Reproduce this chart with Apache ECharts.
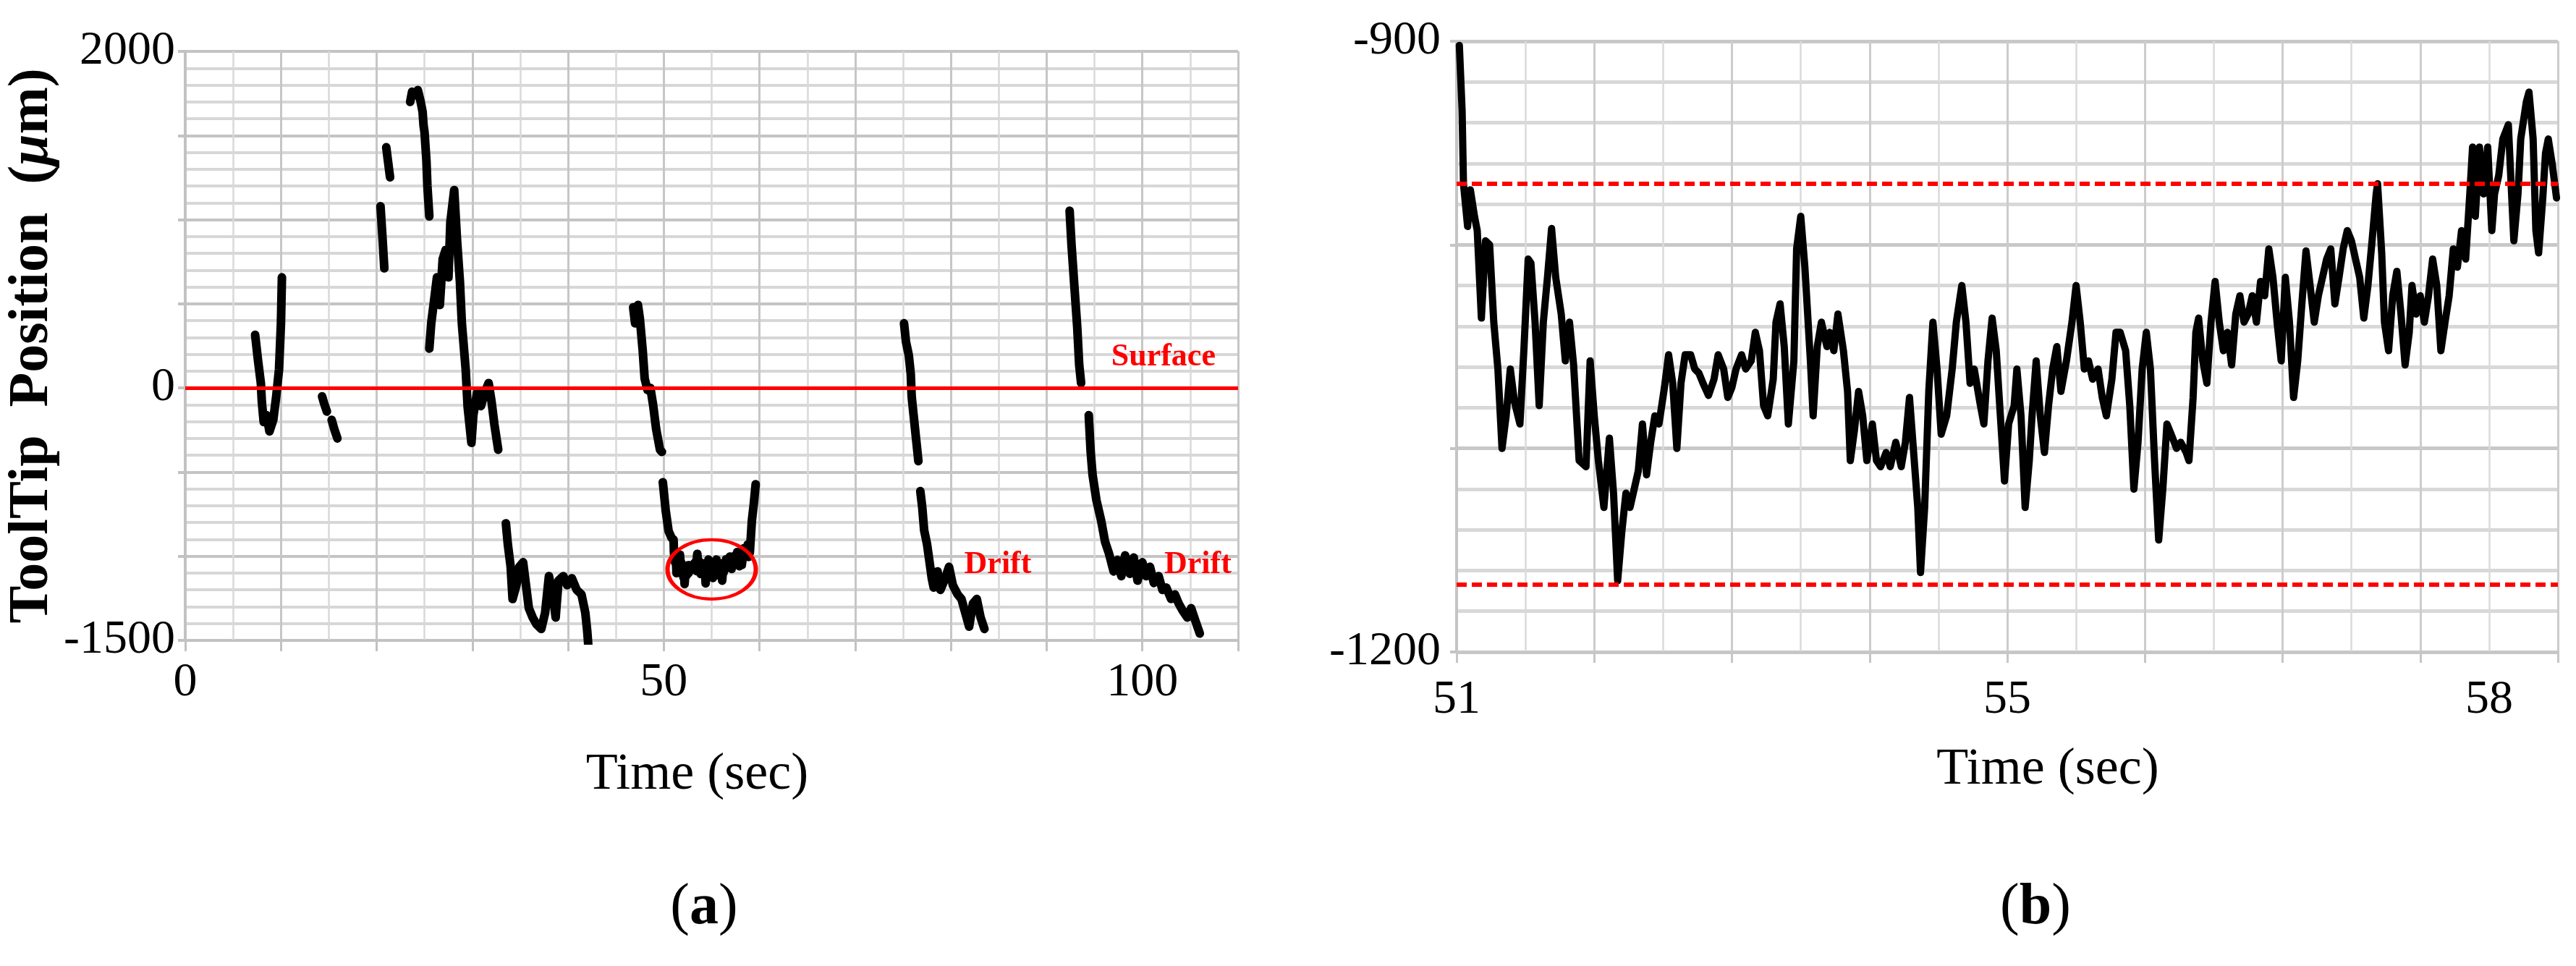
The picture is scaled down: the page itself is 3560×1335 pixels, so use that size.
<!DOCTYPE html>
<html>
<head>
<meta charset="utf-8">
<title>ToolTip Position</title>
<script src="https://cdn.jsdelivr.net/npm/echarts@6/dist/echarts.min.js"></script>
<style>
  html, body { margin: 0; padding: 0; background: #fff; }
  #chart { width: 3560px; height: 1335px; }
</style>
</head>
<body>
<div id="chart"></div>
<script>
const FONT = '"Liberation Serif", "Times New Roman", serif'

// (a) whole run, [time s, position um], one array per unbroken piece of trace
const runA1 = [[7.3, 316], [7.6, 165], [7.9, 29], [8.0, -80], [8.2, -203], [8.5, -162], [8.8, -258], [9.2, -189], [9.5, -53], [9.8, 111], [10.0, 384], [10.1, 657]]
const runA2 = [[14.3, -50], [14.5, -90], [14.8, -140]]
const runA3 = [[15.3, -190], [15.6, -250], [15.9, -300]]
const runA4 = [[20.4, 1080], [20.6, 900], [20.8, 711]]
const runA5 = [[21.0, 1430], [21.2, 1340], [21.4, 1252]]
const runA6 = [[23.5, 1700], [23.7, 1760], [24.0, 1740], [24.3, 1770], [24.6, 1700], [24.8, 1640], [24.9, 1560], [25.0, 1520], [25.2, 1350], [25.3, 1200], [25.5, 1020]]
const runA7 = [[25.5, 234], [25.7, 384], [26.0, 520], [26.3, 657], [26.6, 493], [26.9, 766], [27.2, 820], [27.5, 657], [27.7, 984], [28.1, 1176], [28.4, 875], [28.7, 630], [28.9, 384], [29.3, 111], [29.5, -108], [29.9, -326], [30.1, -162], [30.5, -26], [30.9, -108], [31.3, -26], [31.7, 29], [32.0, -80], [32.3, -217], [32.7, -367]]
const runA8 = [[33.5, -804], [33.7, -927], [34.0, -1063], [34.2, -1254], [34.6, -1172], [34.9, -1063], [35.3, -1036], [35.6, -1172], [35.9, -1309], [36.3, -1364], [36.7, -1404], [37.2, -1432], [37.6, -1336], [38.0, -1118], [38.4, -1227], [38.7, -1364], [39.0, -1145], [39.5, -1118], [39.9, -1172], [40.4, -1131], [40.9, -1200], [41.4, -1227], [41.8, -1336], [42.0, -1445], [42.1, -1520]]
const runA9 = [[46.8, 479], [47.0, 384], [47.3, 493], [47.5, 411], [47.8, 220], [48.0, 56], [48.3, -12], [48.6, 0], [48.9, -108], [49.2, -244], [49.6, -367], [49.8, -380]]
const runA10In = [[49.9, -560], [50.2, -730], [50.5, -850], [50.8, -890]]
const runA10Out = [[59.2, -790], [59.4, -690], [59.6, -572]]
const runA11 = [[75.1, 384], [75.3, 275], [75.6, 193], [75.8, 84], [75.9, -53], [76.1, -162], [76.4, -326], [76.6, -435]]
const runA12 = [[76.8, -613], [77.0, -708], [77.2, -845], [77.5, -927], [77.7, -1008], [78.0, -1131], [78.2, -1186], [78.6, -1090], [78.9, -1200], [79.4, -1131], [79.8, -1063], [80.2, -1172], [80.7, -1227], [81.1, -1254], [81.5, -1336], [81.9, -1418], [82.3, -1281], [82.7, -1254], [83.1, -1364], [83.5, -1432]]
const runA13 = [[92.4, 1053], [92.6, 848], [92.9, 602], [93.2, 357], [93.4, 138], [93.6, 29]]
const runA14 = [[94.4, -162], [94.6, -381], [94.8, -517], [95.2, -667], [95.7, -790], [96.1, -913], [96.5, -981], [97.0, -1090], [97.4, -1022], [97.8, -1118], [98.2, -995], [98.7, -1104], [99.1, -1008], [99.5, -1145], [100.0, -1036], [100.4, -1118], [100.8, -1063], [101.2, -1159], [101.7, -1118], [102.1, -1200], [102.5, -1186], [103.0, -1254], [103.4, -1227], [103.8, -1281], [104.2, -1322], [104.7, -1364], [105.1, -1309], [105.5, -1377], [106.0, -1459]]

// (b) close-up of the circled stretch
const timeB = [
  51.02, 51.04, 51.05, 51.08, 51.10, 51.13, 51.15, 51.18, 51.21, 51.24,
  51.27, 51.30, 51.33, 51.36, 51.39, 51.42, 51.46, 51.49, 51.52, 51.54,
  51.57, 51.60, 51.63, 51.66, 51.69, 51.72, 51.76, 51.79, 51.82, 51.85,
  51.89, 51.94, 51.97, 52.00, 52.03, 52.07, 52.11, 52.14, 52.17, 52.20,
  52.23, 52.26, 52.29, 52.32, 52.35, 52.38, 52.41, 52.44, 52.47, 52.51,
  52.54, 52.57, 52.60, 52.63, 52.66, 52.70, 52.73, 52.76, 52.79, 52.83,
  52.87, 52.90, 52.94, 52.97, 53.00, 53.03, 53.07, 53.10, 53.14, 53.17,
  53.20, 53.23, 53.26, 53.30, 53.32, 53.35, 53.38, 53.41, 53.45, 53.47,
  53.50, 53.53, 53.57, 53.59, 53.62, 53.65, 53.69, 53.71, 53.74, 53.77,
  53.81, 53.84, 53.86, 53.89, 53.92, 53.95, 53.98, 54.02, 54.05, 54.08,
  54.12, 54.15, 54.19, 54.23, 54.26, 54.29, 54.32, 54.35, 54.37, 54.40,
  54.43, 54.46, 54.49, 54.52, 54.56, 54.60, 54.63, 54.67, 54.70, 54.73,
  54.76, 54.80, 54.83, 54.86, 54.89, 54.92, 54.95, 54.98, 55.01, 55.05,
  55.07, 55.10, 55.13, 55.16, 55.18, 55.21, 55.24, 55.27, 55.30, 55.33,
  55.36, 55.39, 55.43, 55.47, 55.50, 55.53, 55.56, 55.59, 55.62, 55.66,
  55.69, 55.72, 55.76, 55.79, 55.82, 55.86, 55.89, 55.92, 55.95, 55.98,
  56.01, 56.04, 56.07, 56.10, 56.13, 56.16, 56.19, 56.23, 56.26, 56.30,
  56.32, 56.35, 56.37, 56.39, 56.42, 56.45, 56.48, 56.51, 56.54, 56.57,
  56.60, 56.63, 56.66, 56.69, 56.72, 56.75, 56.78, 56.81, 56.84, 56.87,
  56.90, 56.93, 56.96, 56.99, 57.02, 57.05, 57.08, 57.11, 57.14, 57.17,
  57.20, 57.23, 57.26, 57.29, 57.32, 57.35, 57.38, 57.41, 57.44, 57.47,
  57.50, 57.53, 57.56, 57.59, 57.62, 57.65, 57.68, 57.69, 57.72, 57.74,
  57.77, 57.80, 57.83, 57.86, 57.89, 57.92, 57.94, 57.97, 58.00, 58.03,
  58.06, 58.09, 58.12, 58.15, 58.18, 58.21, 58.24, 58.27, 58.30, 58.33,
  58.36, 58.38, 58.40, 58.43, 58.46, 58.49, 58.52, 58.54, 58.57, 58.60,
  58.64, 58.66, 58.68, 58.71, 58.73, 58.77, 58.79, 58.82, 58.84, 58.86,
  58.89, 58.91, 58.93, 58.96, 58.99,
]
const posB = [
  -902, -934, -970, -991, -973, -986, -993, -1036, -998, -1000,
  -1038, -1061, -1100, -1084, -1061, -1077, -1088, -1050, -1007, -1009,
  -1038, -1079, -1038, -1016, -992, -1016, -1034, -1057, -1038, -1059,
  -1106, -1109, -1057, -1084, -1106, -1129, -1095, -1122, -1165, -1141,
  -1122, -1129, -1120, -1111, -1088, -1113, -1097, -1084, -1088, -1070,
  -1054, -1068, -1100, -1068, -1054, -1054, -1061, -1063, -1068, -1074,
  -1066, -1054, -1061, -1075, -1070, -1061, -1054, -1061, -1057, -1043,
  -1052, -1079, -1084, -1066, -1038, -1029, -1050, -1088, -1057, -1002,
  -986, -1011, -1057, -1084, -1050, -1038, -1050, -1043, -1052, -1034,
  -1052, -1072, -1106, -1091, -1072, -1084, -1106, -1088, -1106, -1109,
  -1102, -1109, -1097, -1109, -1097, -1075, -1102, -1129, -1161, -1129,
  -1072, -1038, -1061, -1093, -1084, -1061, -1038, -1020, -1038, -1068,
  -1061, -1077, -1088, -1057, -1036, -1052, -1084, -1116, -1088, -1079,
  -1061, -1084, -1129, -1106, -1084, -1057, -1084, -1102, -1079, -1061,
  -1050, -1072, -1057, -1038, -1020, -1038, -1061, -1057, -1066, -1061,
  -1075, -1084, -1066, -1043, -1043, -1052, -1079, -1120, -1097, -1061,
  -1043, -1061, -1106, -1145, -1120, -1088, -1093, -1100, -1097, -1102,
  -1106, -1075, -1043, -1036, -1057, -1068, -1038, -1018, -1038, -1052,
  -1043, -1059, -1034, -1025, -1038, -1034, -1025, -1038, -1018, -1025,
  -1002, -1016, -1038, -1057, -1016, -1038, -1075, -1057, -1029, -1003,
  -1020, -1038, -1025, -1016, -1007, -1002, -1029, -1016, -1002, -993,
  -998, -1007, -1016, -1036, -1020, -998, -975, -970, -1004, -1038,
  -1052, -1025, -1013, -1034, -1059, -1043, -1020, -1034, -1025, -1038,
  -1025, -1007, -1020, -1052, -1038, -1025, -1002, -1011, -993, -1007,
  -975, -952, -986, -952, -975, -952, -993, -975, -966, -948,
  -941, -970, -998, -975, -948, -930, -925, -948, -993, -1004,
  -977, -955, -948, -961, -977,
]

// tick labels
const xLabelsA = [0, 50, 100]
const yLabelsA = [2000, 0, -1500]
const yLabelsB = [-900, -1200]
const xLabelPosB = [51, 55, 58.5]
const xLabelTextB = ['51', '55', '58']

// reference levels
const surfaceLevel = 0
const driftBandB = [-970, -1167]

const closeUpB = timeB.map((t, i) => [t, posB[i]])
const runA10 = runA10In.concat(closeUpB, runA10Out)
const runsA = [runA1, runA2, runA3, runA4, runA5, runA6, runA7, runA8, runA9, runA10, runA11, runA12, runA13, runA14]

const tickFont = { fontFamily: FONT, fontSize: 66, color: '#000' }
const titleFont = { fontFamily: FONT, fontSize: 72, color: '#000' }

function traceSeries(data, axisIndex, width) {
  return {
    type: 'line',
    xAxisIndex: axisIndex,
    yAxisIndex: axisIndex,
    data,
    showSymbol: false,
    silent: true,
    z: 2,
    lineStyle: { color: '#000', width, cap: 'round', join: 'round' },
  }
}

function buildOption() {
  const series = runsA.map(run => traceSeries(run, 0, 12))
  series.push(traceSeries(closeUpB, 1, 10))

  // annotations of (a)
  series.push({
    type: 'line',
    xAxisIndex: 0,
    yAxisIndex: 0,
    data: [],
    z: 5,
    markLine: {
      silent: true,
      symbol: 'none',
      label: { show: false },
      lineStyle: { color: '#f00', width: 5, type: 'solid' },
      data: [{ yAxis: surfaceLevel }],
    },
    markPoint: {
      silent: true,
      data: [
        { name: 'Surface', coord: [102.2, 181], symbol: 'circle', symbolSize: 1 },
        { name: 'Drift', coord: [84.9, -1052], symbol: 'circle', symbolSize: 1 },
        { name: 'Drift', coord: [105.8, -1052], symbol: 'circle', symbolSize: 1 },
        {
          name: '', coord: [55.0, -1078], symbol: 'circle', symbolSize: [122, 82],
          itemStyle: { color: 'transparent', borderColor: '#f00', borderWidth: 5 },
          label: { show: false },
        },
      ],
      itemStyle: { color: 'transparent' },
      label: {
        show: true,
        position: 'inside',
        formatter: p => p.name,
        color: '#f00',
        fontFamily: FONT,
        fontWeight: 'bold',
        fontSize: 44,
      },
    },
  })

  // drift band of (b)
  series.push({
    type: 'line',
    xAxisIndex: 1,
    yAxisIndex: 1,
    data: [],
    z: 5,
    markLine: {
      silent: true,
      symbol: 'none',
      label: { show: false },
      lineStyle: { color: '#f00', width: 6, type: [14, 7] },
      data: driftBandB.map(v => ({ yAxis: v })),
    },
  })

  return {
    animation: false,
    backgroundColor: '#fff',
    grid: [
      { left: 256, top: 71, width: 1455, height: 814 },
      { left: 2013, top: 57, width: 1522, height: 844 },
    ],
    xAxis: [
      {
        gridIndex: 0,
        type: 'value',
        position: 'bottom',
        min: 0,
        max: 110,
        interval: 10,
        axisLine: { onZero: false, lineStyle: { color: '#c2c2c2', width: 3 } },
        axisTick: { length: 15, lineStyle: { color: '#c2c2c2', width: 3 } },
        axisLabel: { ...tickFont, margin: 26, formatter: v => (xLabelsA.includes(v) ? String(v) : '') },
        splitLine: { show: true, lineStyle: { color: '#c6c6c6', width: 3 } },
        minorTick: { show: false, splitNumber: 2 },
        minorSplitLine: { show: true, lineStyle: { color: '#d9d9d9', width: 2.5 } },
        name: 'Time (sec)',
        nameLocation: 'middle',
        nameGap: 150,
        nameTextStyle: { ...titleFont, padding: [0, 40, 0, 0] },
      },
      {
        gridIndex: 1,
        type: 'value',
        position: 'bottom',
        min: 51,
        max: 59,
        interval: 1,
        axisLine: { onZero: false, lineStyle: { color: '#c6c6c6', width: 3 } },
        axisTick: { length: 15, lineStyle: { color: '#c6c6c6', width: 3 } },
        axisLabel: { show: false },
        splitLine: { show: true, lineStyle: { color: '#cccccc', width: 3 } },
        minorTick: { show: false, splitNumber: 2 },
        minorSplitLine: { show: true, lineStyle: { color: '#dadada', width: 2.5 } },
        name: 'Time (sec)',
        nameLocation: 'middle',
        nameGap: 127,
        nameTextStyle: { ...titleFont, padding: [0, 0, 0, 112] },
      },
      {
        // labels only for (b), they sit on the half-second grid
        gridIndex: 1,
        type: 'value',
        position: 'bottom',
        min: 51,
        max: 59,
        interval: 0.5,
        axisLine: { show: false, onZero: false },
        axisTick: { show: false },
        splitLine: { show: false },
        axisLabel: {
          ...tickFont,
          margin: 34,
          formatter: v => {
            const i = xLabelPosB.findIndex(p => Math.abs(p - v) < 1e-6)
            return i >= 0 ? xLabelTextB[i] : ''
          },
        },
      },
    ],
    yAxis: [
      {
        gridIndex: 0,
        type: 'value',
        min: -1500,
        max: 2000,
        interval: 500,
        axisLine: { show: true, onZero: false, lineStyle: { color: '#c2c2c2', width: 4 } },
        axisTick: { show: true, length: 10, lineStyle: { color: '#c2c2c2', width: 4 } },
        axisLabel: { ...tickFont, margin: 14, formatter: v => (yLabelsA.includes(v) ? String(v) : '') },
        splitLine: { show: true, lineStyle: { color: '#c4c4c4', width: 4 } },
        minorTick: { show: false, splitNumber: 5 },
        minorSplitLine: { show: true, lineStyle: { color: '#d7d7d7', width: 4 } },
        name: '{b|ToolTip  Position  (}{i|μ}{b|m)}',
        nameLocation: 'middle',
        nameGap: 126,
        nameTextStyle: {
          rich: {
            b: { fontFamily: FONT, fontSize: 78, fontWeight: 'bold', color: '#000' },
            i: { fontFamily: FONT, fontSize: 78, fontWeight: 'bold', fontStyle: 'italic', color: '#000' },
          },
        },
      },
      {
        gridIndex: 1,
        type: 'value',
        min: -1200,
        max: -900,
        interval: 100,
        axisLine: { show: true, onZero: false, lineStyle: { color: '#c4c4c4', width: 4 } },
        axisTick: { show: true, length: 9, lineStyle: { color: '#c4c4c4', width: 4 } },
        axisLabel: { ...tickFont, margin: 22, formatter: v => (yLabelsB.includes(v) ? String(v) : '') },
        splitLine: { show: true, lineStyle: { color: '#c8c8c8', width: 5 } },
        minorTick: { show: false, splitNumber: 5 },
        minorSplitLine: { show: true, lineStyle: { color: '#d8d8d8', width: 5 } },
      },
    ],
    graphic: [
      panelTag('a', 973),
      panelTag('b', 2813),
    ],
    series,
  }
}

function panelTag(letter, x) {
  return {
    type: 'text',
    x,
    y: 1255,
    style: {
      text: '{p|(}{l|' + letter + '}{p|)}',
      align: 'center',
      verticalAlign: 'middle',
      textAlign: 'center',
      textVerticalAlign: 'middle',
      rich: {
        p: { fontFamily: FONT, fontSize: 80, fill: '#000', color: '#000' },
        l: { fontFamily: FONT, fontSize: 80, fontWeight: 'bold', fill: '#000', color: '#000' },
      },
    },
  }
}

const chart = echarts.init(document.getElementById('chart'))
chart.setOption(buildOption())
</script>
</body>
</html>
